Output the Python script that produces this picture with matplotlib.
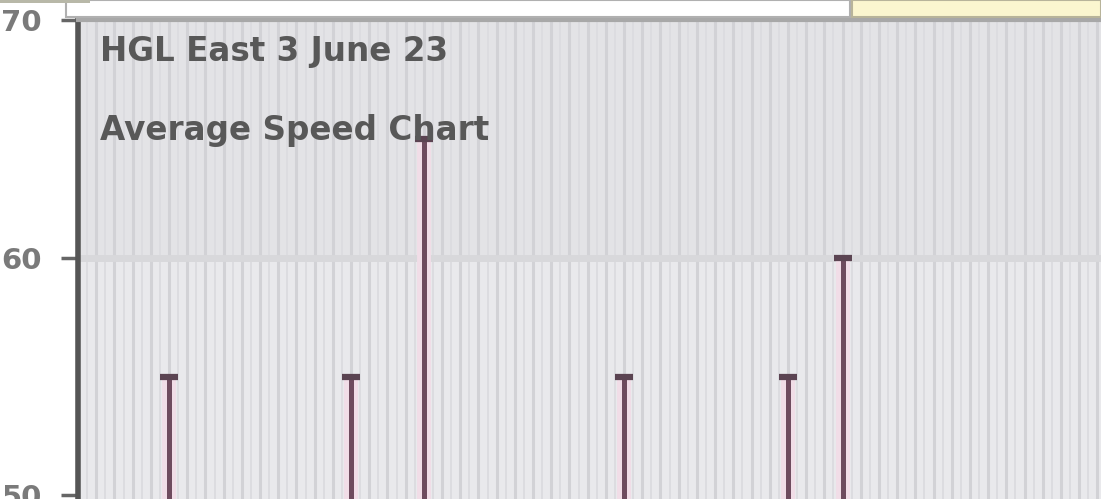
import matplotlib.pyplot as plt
from matplotlib.patches import Rectangle

# =========================
# DATOS
# =========================
slot_index = [5, 15, 19, 30, 39, 42]      # posición de cada lectura
avg_speed = [55, 55, 65, 55, 55, 60]      # velocidad promedio
y_ticks = [50, 60, 70]
title_1 = "HGL East 3 June 23"
title_2 = "Average Speed Chart"
n_slots = 57

# =========================
# FIGURA
# =========================
fig = plt.figure(figsize=(11.01, 4.99), dpi=100)
fig.patch.set_facecolor("white")
ax = fig.add_axes([78 / 1101, 0.0, 1 - 78 / 1101, 1 - 20 / 499])
ax.set_facecolor("#e9e9ec")

ax.set_xlim(0, 56.2)
ax.set_ylim(49.85, 70)

# banda superior un poco más oscura
ax.axhspan(60, 70, color="#e3e3e6", zorder=0)

# rejilla vertical densa
for i in range(n_slots + 1):
    ax.axvline(i, color="#d2d2d6", lw=2.2, zorder=1)
    ax.axvline(i + 0.5, color="#dcdce0", lw=1.4, zorder=1)

# línea horizontal difusa en 60
ax.axhline(60, color="#d8d8db", lw=5, zorder=1)

# tallos con halo rosa
ax.vlines(slot_index, 0, avg_speed, color="#f1dde7", lw=10, zorder=2)
ax.vlines(slot_index, 0, avg_speed, color="#6e4b5e", lw=3.6, zorder=3)
ax.plot(slot_index, avg_speed, ls="none", marker="_", ms=13, mew=4.5,
        color="#5b4452", zorder=4)

# textos dentro del gráfico
fig.text(100 / 1101, 1 - 52 / 499, title_1, fontsize=23.5, color="#585858",
         va="center", ha="left", fontweight="bold")
fig.text(100 / 1101, 1 - 131 / 499, title_2, fontsize=23.5, color="#585858",
         va="center", ha="left", fontweight="bold")

# ejes
ax.set_yticks(y_ticks)
ax.set_yticklabels([str(v) for v in y_ticks])
ax.tick_params(axis="y", length=12, width=2.5, color="#666666", pad=14,
               labelsize=21, labelcolor="#7a7a7a")
for lab in ax.get_yticklabels():
    lab.set_fontweight("bold")
ax.set_xticks([])
ax.spines["left"].set_color("#555555")
ax.spines["left"].set_linewidth(4)
ax.spines["top"].set_color("#a8a8a8")
ax.spines["top"].set_linewidth(3)
ax.spines["right"].set_visible(False)
ax.spines["bottom"].set_visible(False)

# barra superior (caja blanca y caja amarilla recortadas)
fig.patches.append(Rectangle((66 / 1101, 1 - 17 / 499), (850 - 66) / 1101, 17 / 499,
                             transform=fig.transFigure, facecolor="white",
                             edgecolor="#b0b0b0", lw=1.5))
fig.patches.append(Rectangle((852 / 1101, 1 - 17 / 499), 1 - 852 / 1101, 17 / 499,
                             transform=fig.transFigure, facecolor="#fbf6cf",
                             edgecolor="#b8b49a", lw=1.5))
fig.patches.append(Rectangle((0, 1 - 3 / 499), 90 / 1101, 3 / 499,
                             transform=fig.transFigure, facecolor="#b8b8a8",
                             edgecolor="none"))

fig.savefig("out.png", dpi=100)
